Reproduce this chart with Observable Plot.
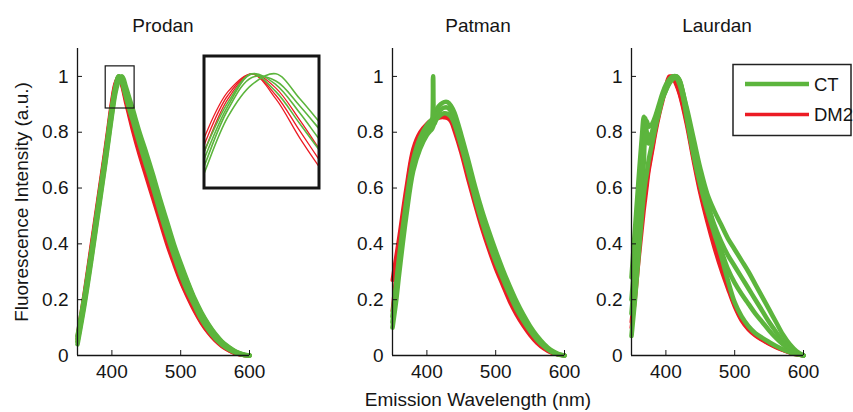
<!DOCTYPE html>
<html><head><meta charset="utf-8">
<script src="https://cdn.jsdelivr.net/npm/d3@7"></script>
<script src="https://cdn.jsdelivr.net/npm/@observablehq/plot@0.6"></script>
<style>
body{margin:0;background:#fff}
#chart{position:relative;width:853px;height:412px;overflow:hidden;background:#fff}
#chart > svg{position:absolute;top:0}
</style></head><body><div id="chart"></div>
<script>
// ---------------- data ----------------
const PANEL_TITLES = ["Prodan", "Patman", "Laurdan"];
const GROUPS = ["CT", "DM2"];
const X_DOMAIN = [350, 600];
const Y_DOMAIN = [0, 1.1];
const X_TICKS = [400, 500, 600];
const Y_TICKS = [0, 0.2, 0.4, 0.6, 0.8, 1];
const X_LABEL = "Emission Wavelength (nm)";
const Y_LABEL = "Fluorescence Intensity (a.u.)";

// Prodan
const W_PRODAN = [350,360,370,380,390,395,400,405,410,415,420,425,430,440,450,460,470,480,490,500,510,520,530,540,550,560,570,580,590,600];
const PRODAN_CT_1 = [0.05,0.19,0.35,0.52,0.69,0.78,0.87,0.95,0.995,0.99,0.955,0.915,0.875,0.79,0.715,0.635,0.55,0.47,0.39,0.32,0.26,0.2,0.15,0.11,0.075,0.048,0.028,0.013,0.004,0];
const PRODAN_CT_2 = [0.06,0.2,0.36,0.53,0.7,0.79,0.88,0.955,1.0,0.985,0.945,0.9,0.86,0.775,0.7,0.62,0.535,0.455,0.375,0.305,0.245,0.19,0.14,0.1,0.068,0.043,0.025,0.011,0.003,0];
const PRODAN_CT_3 = [0.07,0.21,0.37,0.54,0.71,0.8,0.89,0.96,1.0,0.975,0.93,0.885,0.845,0.76,0.68,0.6,0.515,0.435,0.36,0.29,0.23,0.18,0.13,0.093,0.062,0.039,0.022,0.01,0.003,0];
const PRODAN_CT_4 = [0.04,0.18,0.34,0.51,0.68,0.77,0.86,0.94,0.985,1.0,0.965,0.925,0.885,0.8,0.725,0.645,0.56,0.48,0.4,0.33,0.265,0.205,0.155,0.113,0.078,0.05,0.03,0.014,0.005,0];
const PRODAN_DM_1 = [0.06,0.21,0.38,0.55,0.72,0.81,0.9,0.97,1.0,0.97,0.92,0.87,0.82,0.73,0.65,0.57,0.49,0.41,0.34,0.27,0.215,0.165,0.12,0.085,0.057,0.035,0.019,0.008,0.002,0];
const PRODAN_DM_2 = [0.05,0.2,0.37,0.54,0.71,0.8,0.89,0.965,1.0,0.98,0.935,0.885,0.835,0.745,0.665,0.585,0.505,0.425,0.35,0.28,0.225,0.172,0.127,0.09,0.06,0.037,0.02,0.009,0.002,0];
const PRODAN_DM_3 = [0.07,0.22,0.39,0.56,0.73,0.82,0.91,0.975,1.0,0.965,0.91,0.86,0.81,0.72,0.64,0.56,0.48,0.4,0.33,0.265,0.21,0.16,0.117,0.082,0.054,0.033,0.018,0.007,0.002,0];

// Patman
const W_PATMAN = [350,355,360,370,380,390,400,405,407,409,411,415,420,425,430,435,440,450,460,470,480,490,500,510,520,530,540,550,560,570,580,590,600];
const PATMAN_CT_1 = [0.14,0.25,0.36,0.55,0.7,0.78,0.825,0.84,0.845,0.85,0.86,0.885,0.9,0.908,0.908,0.895,0.87,0.79,0.7,0.605,0.52,0.445,0.375,0.31,0.25,0.195,0.147,0.105,0.07,0.042,0.02,0.007,0];
const PATMAN_CT_2 = [0.12,0.22,0.33,0.53,0.68,0.76,0.81,0.825,0.83,1.0,0.83,0.865,0.88,0.888,0.888,0.875,0.85,0.77,0.68,0.585,0.5,0.425,0.355,0.293,0.233,0.18,0.135,0.097,0.063,0.037,0.017,0.005,0];
const PATMAN_CT_3 = [0.1,0.19,0.3,0.5,0.66,0.74,0.79,0.805,0.81,0.82,0.835,0.85,0.862,0.868,0.866,0.855,0.83,0.75,0.66,0.565,0.48,0.405,0.337,0.277,0.22,0.168,0.125,0.088,0.057,0.033,0.015,0.004,0];
const PATMAN_DM_1 = [0.16,0.28,0.4,0.58,0.73,0.79,0.825,0.835,0.84,0.845,0.848,0.855,0.86,0.862,0.86,0.85,0.82,0.74,0.645,0.555,0.47,0.395,0.325,0.265,0.205,0.155,0.113,0.078,0.048,0.027,0.012,0.004,0];
const PATMAN_DM_2 = [0.27,0.35,0.43,0.6,0.74,0.8,0.83,0.84,0.842,0.845,0.846,0.85,0.853,0.853,0.85,0.838,0.805,0.725,0.63,0.54,0.455,0.38,0.312,0.253,0.195,0.147,0.107,0.073,0.045,0.025,0.011,0.003,0];

// Laurdan
const W_LAURDAN = [350,355,360,365,368,370,372,375,380,385,390,395,400,405,410,415,420,430,440,450,460,470,480,490,500,510,520,530,540,550,560,570,580,590,600];
const LAURDAN_CT_1 = [0.28,0.45,0.62,0.78,0.855,0.83,0.84,0.82,0.83,0.86,0.9,0.94,0.97,0.99,1.0,1.0,0.98,0.89,0.78,0.67,0.58,0.52,0.47,0.42,0.38,0.34,0.3,0.255,0.21,0.165,0.12,0.075,0.04,0.015,0];
const LAURDAN_CT_2 = [0.15,0.3,0.45,0.6,0.7,0.85,0.8,0.76,0.8,0.85,0.89,0.93,0.96,0.985,1.0,0.995,0.97,0.87,0.76,0.65,0.55,0.47,0.41,0.36,0.32,0.28,0.24,0.2,0.16,0.12,0.085,0.05,0.025,0.01,0];
const LAURDAN_CT_3 = [0.2,0.35,0.5,0.66,0.75,0.78,0.8,0.78,0.8,0.84,0.88,0.92,0.95,0.98,0.995,1.0,0.985,0.88,0.765,0.655,0.555,0.46,0.38,0.31,0.26,0.22,0.185,0.15,0.12,0.09,0.063,0.04,0.02,0.007,0];
const LAURDAN_CT_4 = [0.07,0.2,0.35,0.5,0.58,0.62,0.65,0.7,0.76,0.82,0.87,0.92,0.95,0.975,0.99,1.0,0.985,0.855,0.72,0.61,0.52,0.44,0.36,0.27,0.19,0.14,0.105,0.08,0.063,0.048,0.034,0.022,0.012,0.004,0];
const LAURDAN_DM_1 = [0.1,0.2,0.33,0.45,0.52,0.56,0.6,0.66,0.73,0.8,0.86,0.91,0.96,0.995,1.0,0.975,0.94,0.84,0.71,0.59,0.49,0.4,0.32,0.25,0.18,0.13,0.097,0.074,0.057,0.043,0.031,0.02,0.011,0.004,0];
const LAURDAN_DM_2 = [0.12,0.24,0.36,0.48,0.55,0.58,0.62,0.67,0.74,0.81,0.87,0.92,0.965,1.0,0.995,0.97,0.935,0.83,0.7,0.58,0.48,0.39,0.31,0.24,0.175,0.125,0.093,0.071,0.055,0.041,0.029,0.019,0.01,0.003,0];

// zoomed region of Prodan (rectangle in main panel, and inset domain)
const ZOOM_BOX_X = [391, 433];
const ZOOM_BOX_Y = [0.885, 1.036];
const INSET_X = [400, 424];
const INSET_Y = [0.84, 1.025];

// ---------------- styling / layout ----------------
const FONT = "'Liberation Sans', Arial, Helvetica, sans-serif";
const GREEN = "#5cb53d";
const RED = "#ec1c24";
const INK = "#151515";
const H = 412, MT = 48, MB = 57;

const PANELS = [
  {title: PANEL_TITLES[0], left: 0,   width: 262, ml: 77, mr: 13, W: W_PRODAN,  ct: [PRODAN_CT_1, PRODAN_CT_2, PRODAN_CT_3, PRODAN_CT_4], dm: [PRODAN_DM_1, PRODAN_DM_2, PRODAN_DM_3], zoom: true},
  {title: PANEL_TITLES[1], left: 300, width: 276, ml: 92, mr: 12, W: W_PATMAN,  ct: [PATMAN_CT_1, PATMAN_CT_2, PATMAN_CT_3], dm: [PATMAN_DM_1, PATMAN_DM_2]},
  {title: PANEL_TITLES[2], left: 560, width: 260, ml: 71, mr: 17, W: W_LAURDAN, ct: [LAURDAN_CT_1, LAURDAN_CT_2, LAURDAN_CT_3, LAURDAN_CT_4], dm: [LAURDAN_DM_1, LAURDAN_DM_2]}
];

function toRows(W, list, group) {
  return list.flatMap((s, k) => {
    if (s.length !== W.length) console.error("length mismatch", group, k, s.length, W.length);
    return W.map((w, i) => ({w, v: s[i], id: group + k, group}));
  });
}
const fmt = d => String(d);
const chart = document.getElementById("chart");

for (const p of PANELS) {
  const frameW = p.width - p.ml - p.mr;
  const frameH = H - MT - MB;
  const dmRows = toRows(p.W, p.dm, GROUPS[1]);
  const ctRows = toRows(p.W, p.ct, GROUPS[0]);
  const marks = [
    Plot.line(dmRows, {x: "w", y: "v", z: "id", stroke: RED, strokeWidth: 4, curve: "catmull-rom"}),
    Plot.line(ctRows, {x: "w", y: "v", z: "id", stroke: GREEN, strokeWidth: 4.6, curve: "catmull-rom"}),
    Plot.ruleX([X_DOMAIN[0]], {stroke: INK, strokeWidth: 1.3}),
    Plot.ruleY([Y_DOMAIN[0]], {stroke: INK, strokeWidth: 1.3}),
    Plot.tickY(Y_TICKS, {y: d => d, insetRight: frameW - 5, stroke: INK}),
    Plot.tickX(X_TICKS, {x: d => d, insetTop: frameH - 5, stroke: INK})
  ];
  if (p.zoom) {
    marks.push(Plot.rect([{x1: ZOOM_BOX_X[0], x2: ZOOM_BOX_X[1], y1: ZOOM_BOX_Y[0], y2: ZOOM_BOX_Y[1]}],
      {x1: "x1", x2: "x2", y1: "y1", y2: "y2", fill: "none", stroke: INK, strokeWidth: 1.2}));
  }
  const svg = Plot.plot({
    width: p.width, height: H,
    marginLeft: p.ml, marginRight: p.mr, marginTop: MT, marginBottom: MB,
    style: {background: "transparent", fontFamily: FONT, fontSize: "19px", color: INK, overflow: "visible"},
    x: {domain: X_DOMAIN, ticks: X_TICKS, tickSize: 0, tickPadding: 9, tickFormat: fmt, label: null},
    y: {domain: Y_DOMAIN, ticks: Y_TICKS, tickSize: 0, tickPadding: 9, tickFormat: fmt, label: null},
    marks
  });
  svg.style.position = "absolute";
  svg.style.left = p.left + "px";
  svg.style.top = "0px";
  chart.appendChild(svg);
}

// inset
{
  const p = PANELS[0];
  const inset = Plot.plot({
    width: 118, height: 135, margin: 1.5,
    style: {background: "white", overflow: "visible"},
    x: {domain: INSET_X, axis: null},
    y: {domain: INSET_Y, axis: null},
    marks: [
      Plot.line(toRows(p.W, p.dm, GROUPS[1]), {x: "w", y: "v", z: "id", stroke: RED, strokeWidth: 1.3, curve: "catmull-rom", clip: true}),
      Plot.line(toRows(p.W, p.ct, GROUPS[0]), {x: "w", y: "v", z: "id", stroke: GREEN, strokeWidth: 1.6, curve: "catmull-rom", clip: true}),
      Plot.frame({stroke: INK, strokeWidth: 3})
    ]
  });
  inset.style.position = "absolute";
  inset.style.left = "201.5px";
  inset.style.top = "53.5px";
  chart.appendChild(inset);
}

// overlay text: titles, axis labels, legend
const ov = d3.create("svg").attr("width", 853).attr("height", H)
  .style("position", "absolute").style("left", "0px").style("top", "0px")
  .style("font-family", FONT).style("pointer-events", "none");
PANELS.forEach(p => {
  const cx = p.left + p.ml + (p.width - p.ml - p.mr) / 2;
  ov.append("text").attr("x", cx).attr("y", 32).attr("text-anchor", "middle")
    .attr("font-size", 19).attr("fill", INK).text(p.title);
});
ov.append("text").attr("x", 478).attr("y", 406).attr("text-anchor", "middle")
  .attr("font-size", 19).attr("fill", INK).text(X_LABEL);
ov.append("text").attr("transform", "translate(21,202) rotate(-90)").attr("dy", "0.35em")
  .attr("text-anchor", "middle").attr("font-size", 19).attr("fill", INK).text(Y_LABEL);
// legend
const lg = ov.append("g");
lg.append("rect").attr("x", 733).attr("y", 64.5).attr("width", 118).attr("height", 71)
  .attr("fill", "white").attr("stroke", "#222").attr("stroke-width", 1.5);
[[GROUPS[0], GREEN, 84, 4.5], [GROUPS[1], RED, 114.5, 3.5]].forEach(([t, c, y, sw]) => {
  lg.append("line").attr("x1", 745).attr("x2", 809).attr("y1", y).attr("y2", y)
    .attr("stroke", c).attr("stroke-width", sw);
  lg.append("text").attr("x", 814).attr("y", y).attr("dy", "0.36em")
    .attr("font-size", 18.5).attr("fill", INK).text(t);
});
chart.appendChild(ov.node());
</script></body></html>
